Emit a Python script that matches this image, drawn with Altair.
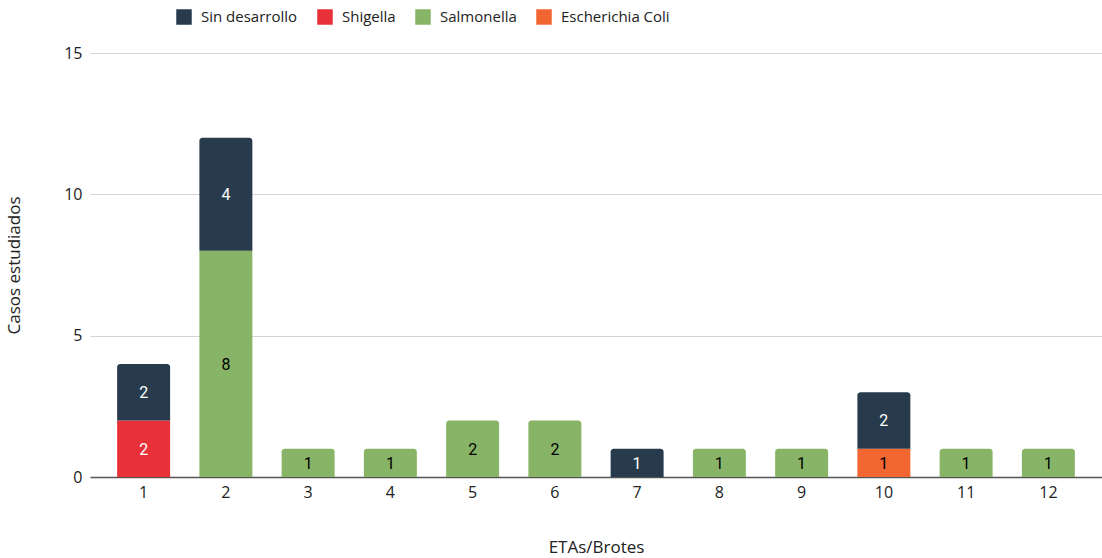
import altair as alt
import pandas as pd

etas = ["1", "2", "3", "4", "5", "6", "7", "8", "9", "10", "11", "12"]
series = ["Sin desarrollo", "Shigella", "Salmonella", "Escherichia Coli"]
colors = ["#283b4d", "#e73038", "#88b467", "#f26631"]
text_colors = ["white", "white", "black", "black"]
# stacking order: bottom to top
stack_order = {"Shigella": 0, "Salmonella": 1, "Escherichia Coli": 2, "Sin desarrollo": 3}

sin_desarrollo = [2, 4, 0, 0, 0, 0, 1, 0, 0, 2, 0, 0]
shigella = [2, 0, 0, 0, 0, 0, 0, 0, 0, 0, 0, 0]
salmonella = [0, 8, 1, 1, 2, 2, 0, 1, 1, 0, 1, 1]
escherichia = [0, 0, 0, 0, 0, 0, 0, 0, 0, 1, 0, 0]

rows = []
for name, vals in zip(series, [sin_desarrollo, shigella, salmonella, escherichia]):
    for e, v in zip(etas, vals):
        if v > 0:
            rows.append({"eta": e, "serie": name, "value": v,
                         "order": stack_order[name],
                         "tc": text_colors[series.index(name)]})
df = pd.DataFrame(rows)

FONT = "Open Sans"

base = alt.Chart(df).transform_stack(
    stack="value", groupby=["eta"], as_=["y0", "y1"],
    sort=[alt.SortField("order", order="ascending")]
).transform_joinaggregate(
    top="max(y1)", groupby=["eta"]
).transform_calculate(
    is_top="datum.y1 == datum.top ? 1 : 0",
    ymid="(datum.y0 + datum.y1) / 2"
)

x_enc = alt.X("eta:N", sort=etas,
              scale=alt.Scale(paddingInner=0.356, paddingOuter=0.33),
              axis=alt.Axis(title="ETAs/Brotes", labelAngle=0, ticks=False,
                            domainColor="#555555", domainWidth=1.5,
                            labelFont=FONT, titleFont=FONT,
                            labelFontSize=16, labelPadding=7, labelColor="#222222",
                            titleFontSize=17, titlePadding=39, titleFontWeight="normal",
                            titleColor="#222222"))
y_scale = alt.Scale(domain=[0, 15])
y_axis = alt.Axis(title="Casos estudiados", values=[0, 5, 10, 15], domain=False,
                  ticks=False, gridColor="#d4d4d4", labelFontSize=16,
                  labelFont=FONT, titleFont=FONT,
                  labelPadding=8, labelColor="#222222",
                  titleFontSize=17, titlePadding=40, titleFontWeight="normal",
                  titleColor="#222222")
color_enc = alt.Color("serie:N", scale=alt.Scale(domain=series, range=colors),
                      legend=alt.Legend(title=None, orient="none", direction="horizontal",
                                        legendX=86, legendY=-44, symbolType="square",
                                        symbolSize=240, symbolStrokeWidth=0,
                                        labelFontSize=15, labelColor="#222222",
                                        labelOffset=9, columnPadding=19,
                                        labelFont=FONT))

bars_top = base.transform_filter("datum.is_top == 1").mark_bar(
    cornerRadiusTopLeft=3, cornerRadiusTopRight=3
).encode(
    x=x_enc,
    y=alt.Y("y0:Q", scale=y_scale, axis=y_axis),
    y2="y1:Q",
    color=color_enc,
)
bars_rest = base.transform_filter("datum.is_top == 0").mark_bar().encode(
    x=x_enc, y=alt.Y("y0:Q", scale=y_scale, axis=y_axis), y2="y1:Q", color=color_enc
)
labels = base.mark_text(fontSize=16, font="Roboto", baseline="middle", dy=1).encode(
    x=x_enc,
    y=alt.Y("ymid:Q", scale=y_scale, axis=y_axis),
    text="value:Q",
    color=alt.Color("tc:N", scale=None),
)

chart = alt.layer(bars_rest, bars_top, labels).properties(
    width=1012, height=424,
    autosize=alt.AutoSizeParams(type="none"),
    padding={"left": 90, "top": 53, "right": 0, "bottom": 81},
).configure(background="white", font=FONT, view=alt.ViewConfig(stroke=None))

chart.save("out.html", embed_options={"renderer": "svg", "actions": False})
